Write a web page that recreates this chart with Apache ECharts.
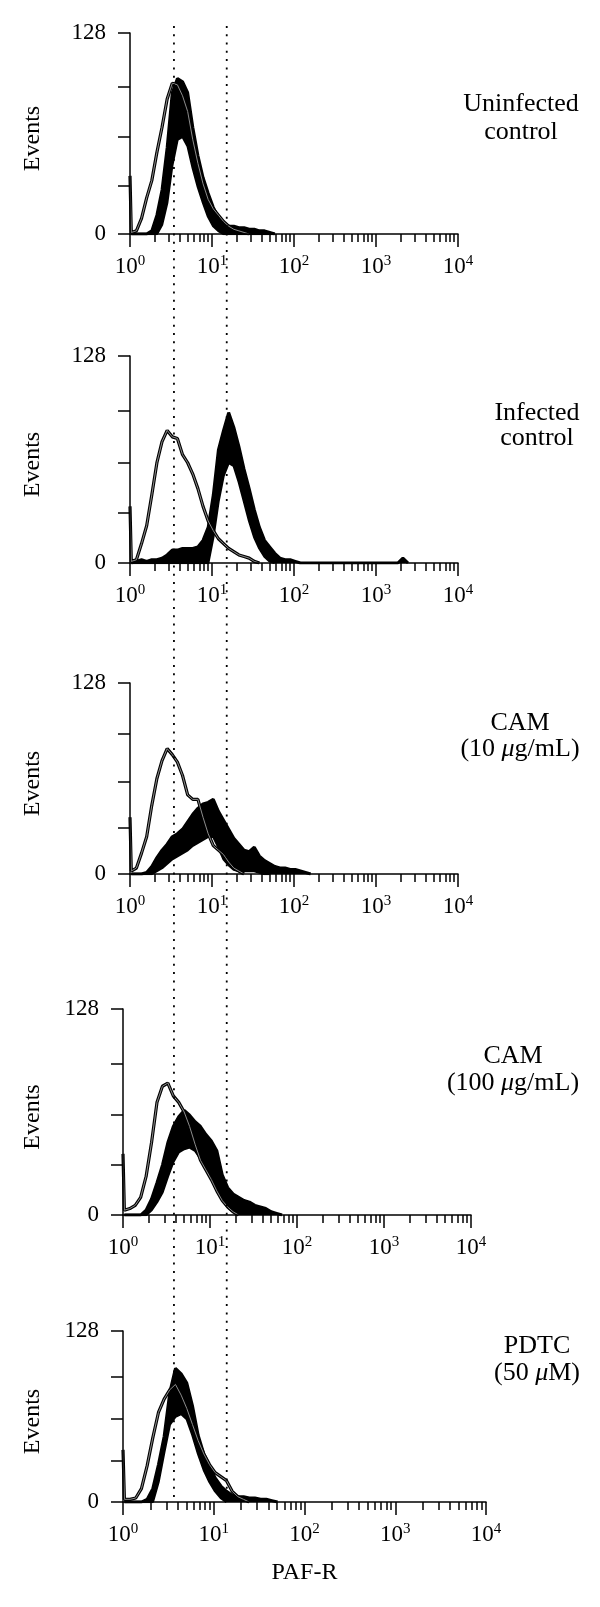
<!DOCTYPE html>
<html><head><meta charset="utf-8">
<script src="https://cdn.jsdelivr.net/npm/echarts@6/dist/echarts.min.js"></script>
<style>html,body{margin:0;padding:0;background:#fff}#c{width:600px;height:1607px}</style>
</head><body><div id="c"></div>
<script>
// ---------- data ----------
// Histogram counts per channel (256 channels = 4 decades), sampled every 4 channels starting at channel 1
const channelStep = 4;
const xExponents = ['0', '1', '2', '3', '4'];
const xMajorChannels = [0, 64, 128, 192, 256];
const yTickValues = [0, 31, 62, 94, 128];
const yLabelValues = [0, 128];
const markerChannels = [34.3, 75.5];           // the two dotted gates
const firstChannelCounts = [37, 35, 38, 38, 39]; // pile-up in channel 0 (control histogram)

const panelTitles = [
  ['Uninfected', 'control'],
  ['Infected', 'control'],
  ['CAM', '(10 {i|\u03bc}g/mL)'],
  ['CAM', '(100 {i|\u03bc}g/mL)'],
  ['PDTC', '(50 {i|\u03bc}M)']
];

// control (thin) histograms
const control1 = [1,2,10,23,34,52,68,86,96,95,88,78,60,45,32,22,16,12,8,5,3,2,1,0];
const control2 = [1,2,12,23,42,62,75,82,78,77,67,62,55,46,35,26,20,15,12,9,7,5,4,3,1,0];
const control3 = [2,4,14,25,46,64,76,84,80,75,66,53,50,50,38,27,19,16,13,8,4,2,0];
const control4 = [3,4,6,11,24,45,70,80,82,74,70,64,55,44,34,28,22,15,9,5,2,0];
const control5 = [2,2,3,10,27,48,67,77,84,88,80,70,58,46,36,28,22,19,16,8,4,2,0];

// PAF-R (bold) histograms: upper and lower envelope of the noisy trace
const pafUpper1 = [0,0,0,0,2,12,28,55,90,99,97,90,68,50,36,26,17,10,7,5,5,4,4,3,3,2,2,1,0];
const pafLower1 = [0,0,0,0,0,0,6,20,44,60,62,56,42,30,20,11,5,2,0,0,0,0,0,0,0,0,0,0,0];
const pafUpper2 = [0,1,2,1,2,2,3,5,8,8,9,9,9,10,14,22,42,70,82,93,84,72,58,46,33,22,14,10,6,3,2,2,1,0,0,0,0,0,0,0,0,0,0,0,0,0,0,0,0,0,0,0,0,3,0];
const pafLower2 = [0,0,0,0,0,0,0,0,0,0,0,0,0,0,0,0,16,38,54,62,60,50,38,26,16,9,4,1,0];
const pafUpper3 = [0,0,0,1,5,11,16,20,25,27,30,35,40,44,47,48,50,42,36,30,24,20,16,15,18,12,9,7,5,4,4,3,3,2,1,0];
const pafLower3 = [0,0,0,0,0,2,4,7,10,12,14,16,19,21,23,25,25,18,10,6,3,2,2,2,2,1,0,0];
const pafUpper4 = [0,0,0,0,3,10,20,31,45,55,61,65,62,58,55,50,46,40,25,17,13,11,9,8,6,5,4,2,1,0];
const pafLower4 = [0,0,0,0,0,3,8,14,24,33,39,41,42,40,35,29,23,16,10,5,2,0];
const pafUpper5 = [0,0,0,0,2,10,28,49,82,100,96,89,72,50,36,27,18,12,8,5,4,4,3,3,2,2,1,0];
const pafLower5 = [0,0,0,0,0,0,15,37,58,64,66,62,50,36,24,15,8,3,0];

// ---------- layout ----------
const FONT = "'Liberation Serif','Times New Roman',serif";
const controls = [control1, control2, control3, control4, control5];
const uppers = [pafUpper1, pafUpper2, pafUpper3, pafUpper4, pafUpper5];
const lowers = [pafLower1, pafLower2, pafLower3, pafLower4, pafLower5];
const grids = [
  {left: 130, top: 33, width: 328, height: 201},
  {left: 130, top: 356, width: 328, height: 207},
  {left: 130, top: 683, width: 328, height: 191},
  {left: 123, top: 1009, width: 348, height: 206},
  {left: 123, top: 1331, width: 363, height: 171}
];
const titlePos = [[521, 104, 132], [537, 413, 438], [520, 723, 749], [513, 1056, 1083], [537, 1346, 1373]];

const minorChannels = [];
for (let d = 0; d < 4; d++) for (let n = 2; n <= 9; n++) minorChannels.push(64 * (d + Math.log10(n)));

const toPts = arr => arr.map((v, i) => [1 + channelStep * i, v]);

const gridOpt = [], xAxes = [], yAxes = [], series = [], graphics = [];
grids.forEach((g, k) => {
  gridOpt.push(Object.assign({containLabel: false, outerBoundsMode: 'none'}, g));
  xAxes.push({
    type: 'value', gridIndex: k, min: 0, max: 256, position: 'bottom', z: 8,
    axisLine: {show: true, lineStyle: {color: '#000', width: 1.5}},
    axisTick: {show: true, customValues: xMajorChannels, length: 13, lineStyle: {color: '#000', width: 1.5}},
    axisLabel: {
      show: true, customValues: xMajorChannels, margin: 20,
      formatter: v => '{b|10}{s|' + xExponents[Math.round(v / 64)] + '}',
      rich: {
        b: {fontSize: 23, fontFamily: FONT, color: '#000', lineHeight: 25},
        s: {fontSize: 15, fontFamily: FONT, color: '#000', lineHeight: 15, verticalAlign: 'top'}
      }
    },
    splitLine: {show: false},
    name: k === 4 ? 'PAF-R' : '', nameLocation: 'middle', nameGap: 59,
    nameTextStyle: {fontSize: 24, fontFamily: FONT, color: '#000'}
  });
  xAxes.push({
    type: 'value', gridIndex: k, min: 0, max: 256, position: 'bottom', z: 8,
    axisLine: {show: false},
    axisTick: {show: true, customValues: minorChannels, length: 8, lineStyle: {color: '#000', width: 1.5}},
    axisLabel: {show: false}, splitLine: {show: false}
  });
  yAxes.push({
    type: 'value', gridIndex: k, min: 0, max: 128, z: 8,
    axisLine: {show: true, lineStyle: {color: '#000', width: 1.5}},
    axisTick: {show: true, customValues: yTickValues, length: 12, lineStyle: {color: '#000', width: 1.5}},
    axisLabel: {show: true, customValues: yLabelValues, margin: 24, fontSize: 23, fontFamily: FONT, color: '#000'},
    splitLine: {show: false},
    name: 'Events', nameLocation: 'middle', nameRotate: 90,
    nameGap: g.left - 45,
    nameTextStyle: {fontSize: 24, fontFamily: FONT, color: '#000', padding: [0, 10, 0, 0]}
  });
  const common = {type: 'line', xAxisIndex: 2 * k, yAxisIndex: k, symbol: 'none', silent: true, animation: false};
  series.push(Object.assign({}, common, {
    data: toPts(uppers[k]), z: 2,
    lineStyle: {color: '#000', width: 3}, areaStyle: {color: '#000', opacity: 1}
  }));
  series.push(Object.assign({}, common, {
    data: toPts(lowers[k]), z: 3,
    lineStyle: {color: '#000', width: 2.5}, areaStyle: {color: '#fff', opacity: 1}
  }));
  const ctrl = [[0, firstChannelCounts[k]]].concat(toPts(controls[k]));
  series.push(Object.assign({}, common, {data: ctrl, z: 4, lineStyle: {color: '#000', width: 3.2}}));
  series.push(Object.assign({}, common, {data: ctrl, z: 5, lineStyle: {color: '#8c8c8c', width: 1}}));

  const tp = titlePos[k];
  const rich = {i: {fontStyle: 'italic', fontSize: 26, fontFamily: FONT, fill: '#000'}};
  graphics.push({type: 'text', x: tp[0], y: tp[1], silent: true,
    style: {text: panelTitles[k][0], fontSize: 26, fontFamily: FONT, fill: '#000', align: 'center', verticalAlign: 'middle', rich}});
  graphics.push({type: 'text', x: tp[0], y: tp[2], silent: true,
    style: {text: panelTitles[k][1], fontSize: 26, fontFamily: FONT, fill: '#000', align: 'center', verticalAlign: 'middle', rich}});
});

// overlay grid for the dotted gate lines spanning all panels
gridOpt.push({left: 130, top: 25, width: 328, height: 1472, containLabel: false, outerBoundsMode: 'none'});
xAxes.push({type: 'value', gridIndex: 5, min: 0, max: 256, show: false});
yAxes.push({type: 'value', gridIndex: 5, min: 0, max: 1, show: false});
markerChannels.forEach(m => {
  series.push({type: 'line', xAxisIndex: 10, yAxisIndex: 5, symbol: 'none', silent: true, z: 10,
    data: [[m, 0], [m, 1]], lineStyle: {color: '#000', width: 1.8, type: [2, 6.3]}});
});

const chart = echarts.init(document.getElementById('c'), null, {renderer: 'canvas'});
chart.setOption({
  animation: false,
  backgroundColor: '#fff',
  grid: gridOpt, xAxis: xAxes, yAxis: yAxes, series: series,
  graphic: graphics
});
</script></body></html>
